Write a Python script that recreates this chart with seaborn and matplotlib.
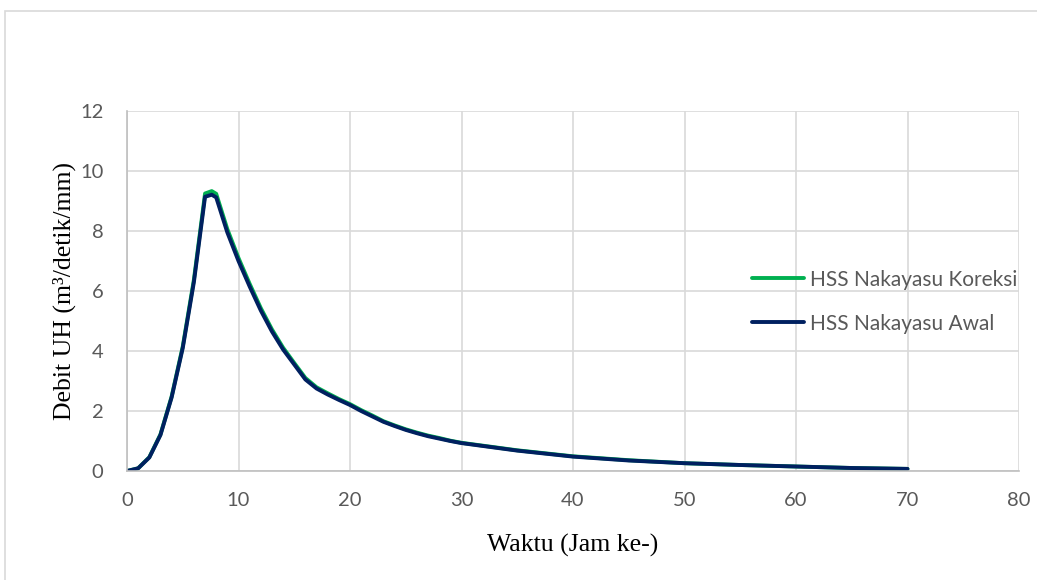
import matplotlib
matplotlib.use("Agg")
import matplotlib.pyplot as plt
import seaborn as sns
import pandas as pd
from matplotlib.patches import Rectangle

# hydrograph values (jam ke-, m3/detik/mm)
jam = [0, 1, 2, 3, 4, 5, 6, 7, 7.6, 8, 9, 10, 11, 12, 13, 14, 15, 16, 17, 18, 19, 20,
       21, 22, 23, 24, 25, 26, 27, 28, 29, 30, 32, 35, 40, 45, 50, 55, 60, 65, 70]
koreksi = [0, 0.09, 0.46, 1.22, 2.48, 4.15, 6.38, 9.25, 9.33, 9.24, 8.06, 7.1, 6.24, 5.43,
           4.72, 4.11, 3.6, 3.1, 2.79, 2.59, 2.4, 2.23, 2.03, 1.85, 1.66, 1.52, 1.39, 1.28,
           1.18, 1.1, 1.01, 0.94, 0.84, 0.69, 0.49, 0.36, 0.26, 0.2, 0.15, 0.1, 0.07]
awal = [0, 0.09, 0.45, 1.2, 2.45, 4.1, 6.3, 9.14, 9.21, 9.12, 7.95, 7.0, 6.15, 5.35,
        4.65, 4.05, 3.55, 3.05, 2.75, 2.55, 2.37, 2.2, 2.0, 1.82, 1.64, 1.5, 1.37, 1.26,
        1.16, 1.08, 1.0, 0.93, 0.83, 0.68, 0.48, 0.35, 0.26, 0.2, 0.15, 0.1, 0.07]
series_names = ["HSS Nakayasu Koreksi", "HSS Nakayasu Awal"]
colors = ["#00B050", "#002060"]
x_ticks = list(range(0, 90, 10))
y_ticks = list(range(0, 14, 2))

df = pd.DataFrame({
    "jam": jam * 2,
    "debit": koreksi + awal,
    "seri": [series_names[0]] * len(jam) + [series_names[1]] * len(jam),
})

sns.set_theme(style="whitegrid")
plt.rcParams["font.family"] = ["Lato", "DejaVu Sans"]

fig = plt.figure(figsize=(10.37, 5.8), dpi=100)
ax = fig.add_axes([127 / 1037, 109 / 580, 892 / 1037, 360 / 580])

sns.lineplot(data=df, x="jam", y="debit", hue="seri", palette=colors,
             linewidth=2.8, ax=ax, sort=False)
for line in ax.get_lines():
    line.set_solid_capstyle("round")
    line.set_solid_joinstyle("round")

ax.set_xlim(0, 80)
ax.set_ylim(0, 12)
ax.set_xticks(x_ticks)
ax.set_yticks(y_ticks)
ax.grid(True, color="#D9D9D9", linewidth=1.2)
ax.set_facecolor("white")
for side in ["top", "right"]:
    ax.spines[side].set_visible(False)
for side in ["left", "bottom"]:
    ax.spines[side].set_color("#BFBFBF")
    ax.spines[side].set_linewidth(1.2)
ax.tick_params(axis="both", length=0, labelsize=14.5, colors="#595959")
ax.tick_params(axis="y", pad=17)
ax.tick_params(axis="x", pad=15)

ax.set_xlabel("Waktu (Jam ke-)", family="Liberation Serif", fontsize=18.5,
              color="black", labelpad=18)
ax.set_ylabel("Debit UH (m³/detik/mm)", family="Liberation Serif", fontsize=18.5,
              color="black", labelpad=3)

leg = ax.legend(loc="center left", bbox_to_anchor=(752 / 1037, 0.48),
                bbox_transform=fig.transFigure, frameon=False, fontsize=15,
                handlelength=2.5, handletextpad=0.3, labelspacing=1.15,
                borderpad=0, borderaxespad=0)
for txt in leg.get_texts():
    txt.set_color("#595959")
for h in leg.get_lines():
    h.set_linewidth(2.8)

# outer chart border
fig.patches.append(Rectangle((5 / 1037, -0.05), 1.1, (580 - 11) / 580 + 0.05,
                             transform=fig.transFigure, fill=False,
                             edgecolor="#D9D9D9", linewidth=1.2))

fig.savefig("out.png", dpi=100)
